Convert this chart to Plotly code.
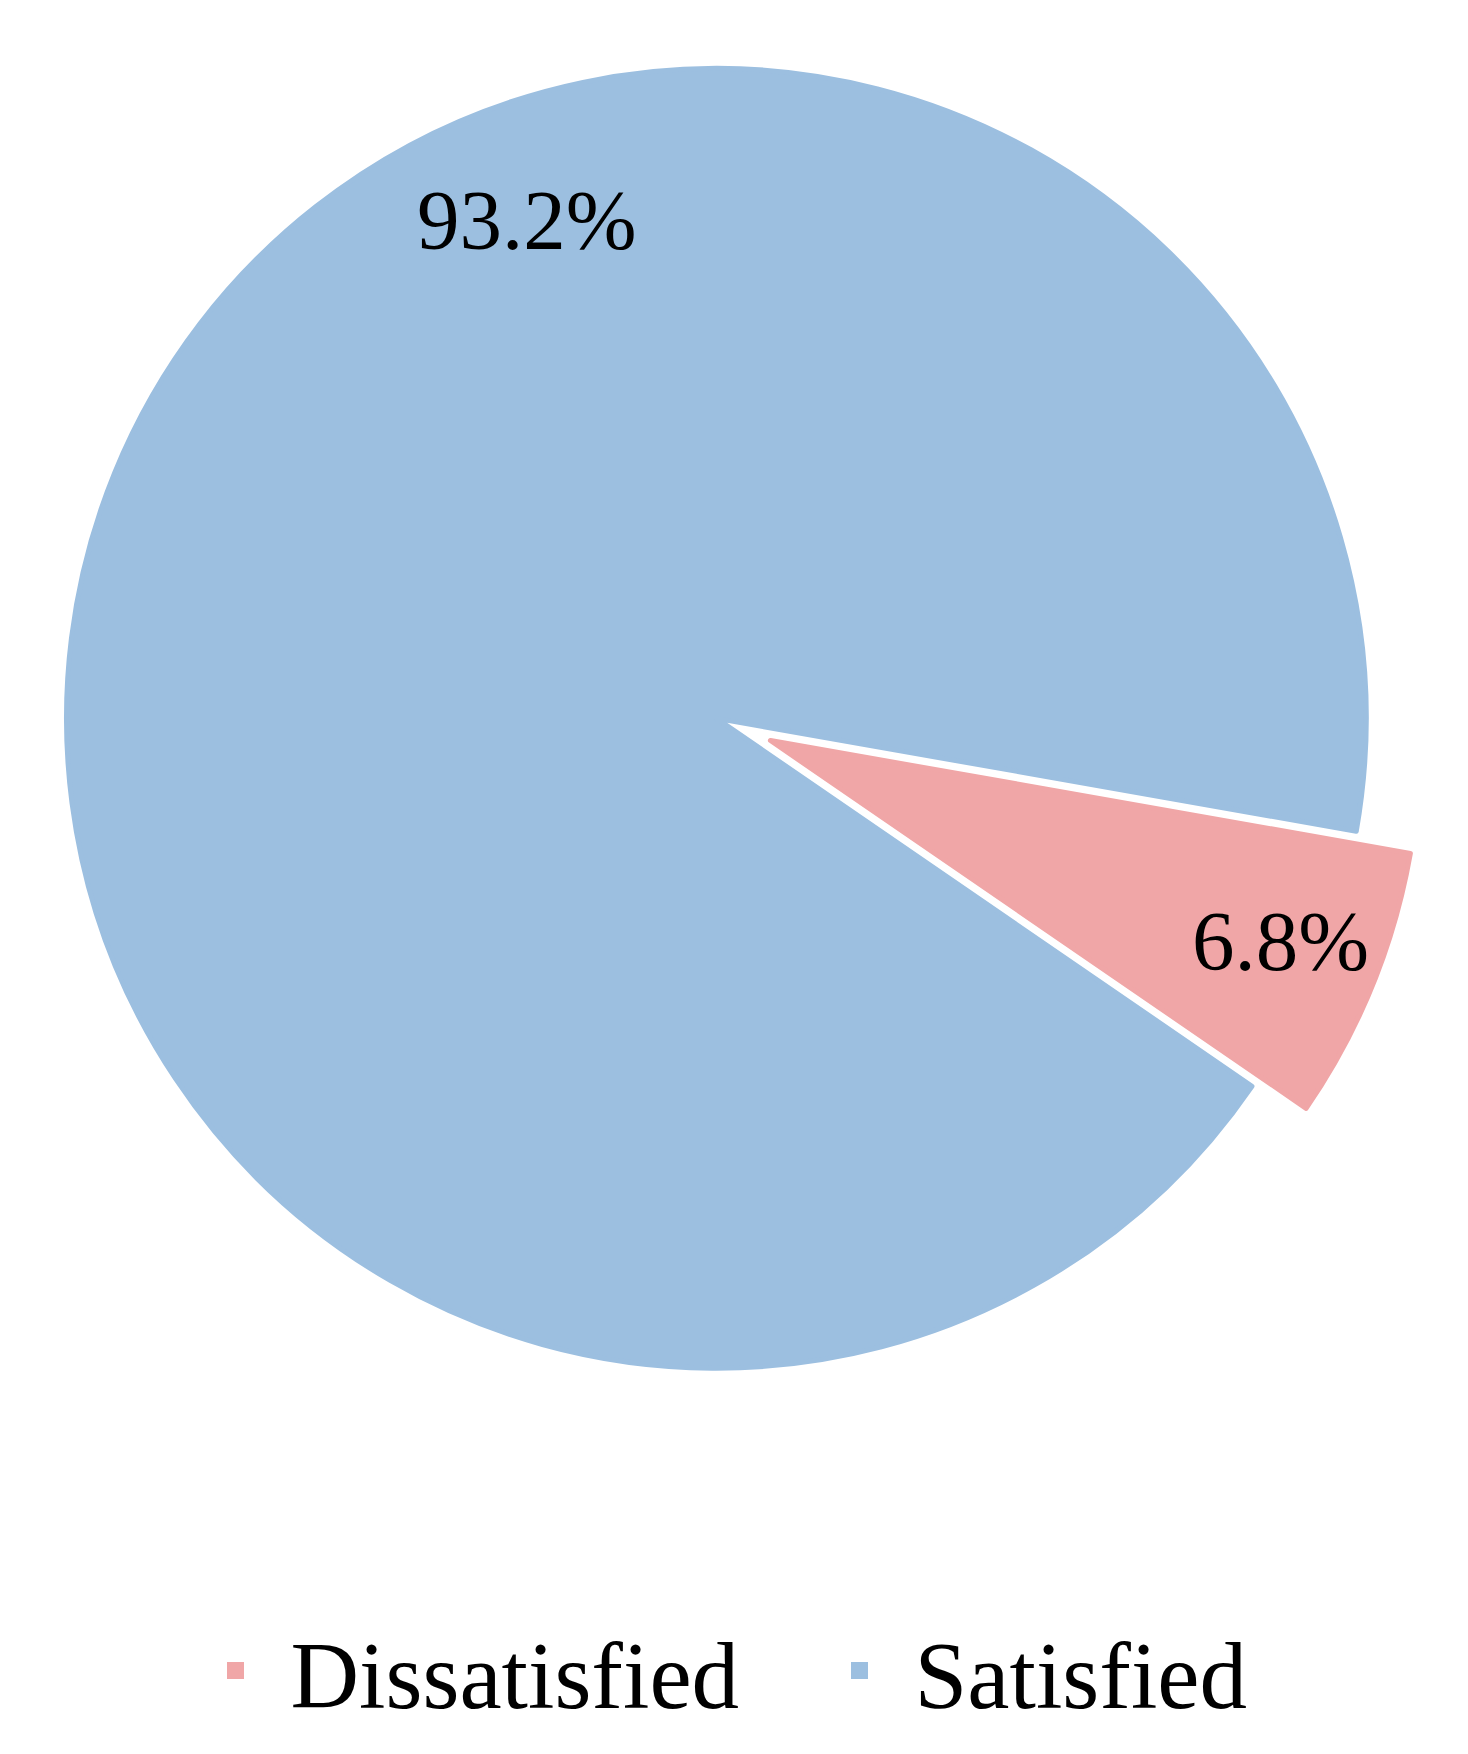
import plotly.graph_objects as go

# Satisfaction des répondants
labels = ['Dissatisfied', 'Satisfied']
values = [6.8, 93.2]
colors = ['#f0a6a7', '#9cbfe0']
pulls = [0.09, 0]

serif = 'Liberation Serif, Times New Roman, serif'

fig = go.Figure()

fig.add_trace(go.Pie(
    labels=labels,
    values=values,
    # bordure de la même couleur : agrandit aussi le carré de la légende
    marker=dict(colors=colors, line=dict(color=colors, width=5)),
    pull=pulls,
    sort=False,
    direction='clockwise',
    rotation=100,
    textinfo='none',
    hoverinfo='label+percent',
    domain=dict(x=[0, 0.965], y=[0.19, 1.0])
))

# Étiquettes de pourcentage (placées comme dans l'original)
label_pos = {'Dissatisfied': (0.867, 0.468), 'Satisfied': (0.3535, 0.879)}
for name, v in zip(labels, values):
    px, py = label_pos[name]
    fig.add_annotation(
        x=px, y=py, xref='paper', yref='paper',
        xanchor='center', yanchor='middle',
        text=f'{v}%', showarrow=False,
        font=dict(family=serif, size=85, color='black')
    )

fig.update_layout(
    width=1468, height=1754,
    margin=dict(l=0, r=0, t=0, b=0, autoexpand=False),
    paper_bgcolor='white',
    plot_bgcolor='white',
    showlegend=True,
    legend=dict(
        orientation='h',
        x=0.1175, xanchor='left',
        y=0.052, yanchor='middle',
        font=dict(family=serif, size=95, color='black'),
        itemwidth=100,
        entrywidth=509,
        traceorder='normal'
    )
)

fig.write_html('out.html')
